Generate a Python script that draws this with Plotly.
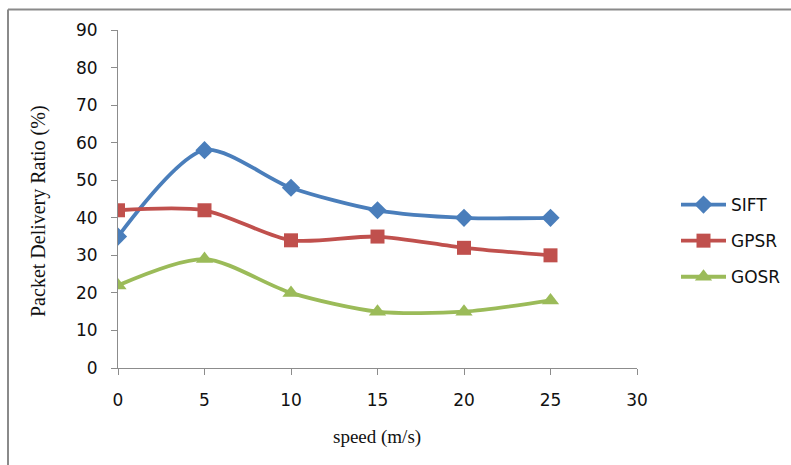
import plotly.graph_objects as go

# Packet delivery ratio versus node speed for three routing protocols
speed = [0, 5, 10, 15, 20, 25]
sift = [35, 58, 48, 42, 40, 40]
gpsr = [42, 42, 34, 35, 32, 30]
gosr = [22, 29, 20, 15, 15, 18]

x_ticks = [0, 5, 10, 15, 20, 25, 30]
y_ticks = [0, 10, 20, 30, 40, 50, 60, 70, 80, 90]

W, H = 791, 465
ML, MR, MT, MB = 118, 154, 30, 97

series = [
    ("SIFT", sift, "#4A7EBB", "diamond", 14),
    ("GPSR", gpsr, "#C0504D", "square", 14),
    ("GOSR", gosr, "#9BBB59", "triangle-up", 15),
]

fig = go.Figure()
for name, vals, color, sym, size in series:
    fig.add_trace(go.Scatter(
        x=speed, y=vals, name=name, legendgroup=name, mode="lines+markers",
        line=dict(color=color, width=3.8, shape="spline", smoothing=0.8),
        marker=dict(symbol=sym, size=size, color=color),
    ))

axis_col = "#8C8C8C"
sans = "'DejaVu Sans', Verdana, sans-serif"
serif = "'Liberation Serif', 'DejaVu Serif', serif"
tick_font = dict(family=sans, size=17, color="#111111")

fig.update_xaxes(
    range=[0, 30], tickvals=x_ticks, ticks="outside", ticklen=6, tickcolor=axis_col,
    showline=True, linecolor=axis_col, linewidth=1, showgrid=False, zeroline=False,
    tickfont=tick_font, ticklabelstandoff=11,
)
fig.update_yaxes(
    range=[0, 90], tickvals=y_ticks, ticks="outside", ticklen=6, tickcolor=axis_col,
    showline=True, linecolor=axis_col, linewidth=1, showgrid=False, zeroline=False,
    tickfont=tick_font, ticklabelstandoff=10,
)

def px_to_paper_x(px):
    return (px - ML) / (W - ML - MR)

def px_to_paper_y(py):
    return (H - MB - py) / (H - MT - MB)

# Axis titles
fig.add_annotation(text="speed (m/s)", xref="paper", yref="paper",
                   x=px_to_paper_x(377), y=px_to_paper_y(437),
                   showarrow=False, xanchor="center", yanchor="middle",
                   font=dict(family=serif, size=19, color="#111111"))
fig.add_annotation(text="Packet Delivery Ratio (%)", xref="paper", yref="paper",
                   x=px_to_paper_x(38), y=px_to_paper_y(211), textangle=-90,
                   showarrow=False, xanchor="center", yanchor="middle",
                   font=dict(family=serif, size=20, color="#111111"))

# Frame lines along the top and left edges of the chart area
frame = dict(color="#8A8A8A", width=2)
fig.add_shape(type="line", xref="paper", yref="paper",
              x0=px_to_paper_x(8), x1=px_to_paper_x(W + 5),
              y0=px_to_paper_y(9.5), y1=px_to_paper_y(9.5), line=frame)
fig.add_shape(type="line", xref="paper", yref="paper",
              x0=px_to_paper_x(8), x1=px_to_paper_x(8),
              y0=px_to_paper_y(9.5), y1=px_to_paper_y(H + 5), line=frame)

fig.update_layout(
    width=W, height=H,
    margin=dict(l=ML, r=MR, t=MT, b=MB, autoexpand=False),
    paper_bgcolor="white", plot_bgcolor="white",
    showlegend=True,
    legend=dict(
        x=px_to_paper_x(676), y=px_to_paper_y(187), xanchor="left", yanchor="top",
        font=dict(family=sans, size=17, color="#111111"),
        bgcolor="rgba(0,0,0,0)", tracegroupgap=11, itemwidth=45,
    ),
)

fig.write_html("out.html")
